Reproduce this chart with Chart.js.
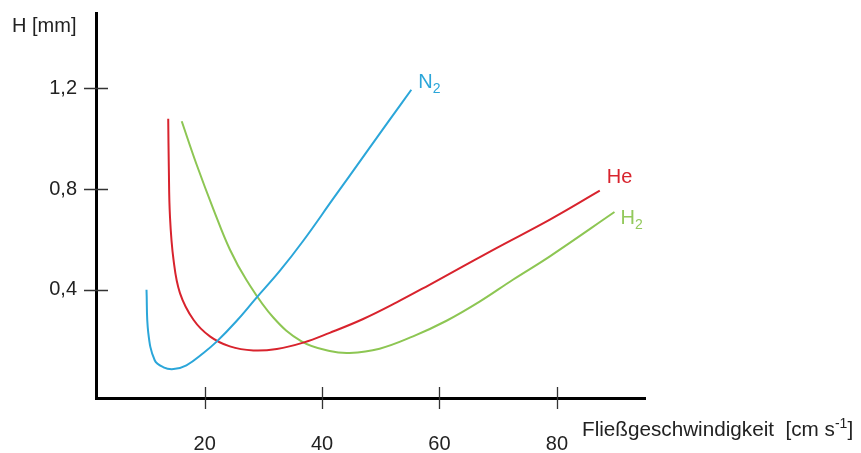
<!DOCTYPE html>
<html>
<head>
<meta charset="utf-8">
<script src="https://cdn.jsdelivr.net/npm/chart.js@4/dist/chart.umd.min.js"></script>
<style>
  html, body { margin: 0; padding: 0; background: #fff; }
  canvas { display: block; }
</style>
</head>
<body>
<canvas id="chart" width="861" height="453"></canvas>
<script>
const X_TICKS = [20, 40, 60, 80];
const Y_TICKS = [0.4, 0.8, 1.2];

const N2_X = [10.1, 10.4, 11.5, 13.0, 14.7, 16.9, 19.8, 22.1, 25.4, 28.7, 32.8, 36.8, 41.9, 47.6, 51.5, 55.2];
const N2_Y = [0.40, 0.23, 0.12, 0.092, 0.085, 0.10, 0.149, 0.195, 0.275, 0.365, 0.475, 0.595, 0.762, 0.948, 1.075, 1.195];

const HE_X = [13.8, 13.9, 14.1, 14.7, 15.8, 18.1, 20.9, 24.3, 28.3, 32.3, 36.8, 41.3, 47.0, 52.7, 58.3, 64.0, 69.7, 78.8, 87.3];
const HE_Y = [1.08, 0.89, 0.69, 0.52, 0.387, 0.281, 0.215, 0.175, 0.159, 0.165, 0.19, 0.229, 0.284, 0.35, 0.42, 0.493, 0.566, 0.679, 0.794];

const H2_X = [16.1, 18.6, 21.5, 24.3, 27.1, 31.7, 36.5, 41.3, 44.7, 49.8, 55.5, 61.2, 66.9, 72.5, 78.8, 89.8];
const H2_Y = [1.07, 0.90, 0.72, 0.56, 0.44, 0.29, 0.195, 0.157, 0.149, 0.166, 0.215, 0.277, 0.354, 0.44, 0.533, 0.709];

const FONT = '"Liberation Sans", Arial, sans-serif';
const TEXT = "#222";

const SERIES = [
  { name: "N", sub: "2", xs: N2_X, ys: N2_Y, color: "#2ba6d9", label: "#2ba6d9", dx: 7, dy: -2 },
  { name: "He", sub: "", xs: HE_X, ys: HE_Y, color: "#d8232d", label: "#d8232d", dx: 7, dy: -8 },
  { name: "H", sub: "2", xs: H2_X, ys: H2_Y, color: "#8dc653", label: "#93c95c", dx: 6, dy: 12 }
];

function toPoints(xs, ys) {
  return xs.map((x, i) => ({ x, y: ys[i] }));
}

function textWithScript(ctx, parts, x, y) {
  // parts: [text, size, dy]
  let cx = x;
  for (const [t, size, dy] of parts) {
    ctx.font = `${size}px ${FONT}`;
    ctx.fillText(t, cx, y + dy);
    cx += ctx.measureText(t).width;
  }
}

const decor = {
  id: "decor",
  afterDraw(chart) {
    const { ctx } = chart;
    const x = chart.scales.x, y = chart.scales.y;
    ctx.save();

    // tick marks crossing both axes
    ctx.strokeStyle = "#333";
    ctx.lineWidth = 1.3;
    ctx.beginPath();
    X_TICKS.forEach(v => {
      const px = Math.round(x.getPixelForValue(v)) + 0.5;
      ctx.moveTo(px, y.bottom - 11);
      ctx.lineTo(px, y.bottom + 11);
    });
    Y_TICKS.forEach(v => {
      const py = Math.round(y.getPixelForValue(v)) + 0.5;
      ctx.moveTo(x.left - 12, py);
      ctx.lineTo(x.left + 12, py);
    });
    ctx.stroke();

    // axis titles
    ctx.fillStyle = TEXT;
    ctx.textBaseline = "alphabetic";
    ctx.textAlign = "left";
    textWithScript(ctx, [["H [mm]", 20, 0]], 12, 32);
    textWithScript(ctx, [["Fließgeschwindigkeit", 20.7, 0], ["  [cm s", 20.7, 0], ["-1", 14, -8], ["]", 20.7, 0]], 582, 436);

    // series labels next to the curve ends
    SERIES.forEach((s, i) => {
      const pts = chart.getDatasetMeta(i).data;
      const last = pts[pts.length - 1];
      ctx.fillStyle = s.label;
      const parts = [[s.name, 20, 0]];
      if (s.sub) parts.push([s.sub, 14, 5]);
      textWithScript(ctx, parts, last.x + s.dx, last.y + s.dy);
    });

    ctx.restore();
  }
};

function noPad(s) {
  s.paddingTop = 0;
  s.paddingBottom = 0;
  s.paddingLeft = 0;
  s.paddingRight = 0;
}

new Chart(document.getElementById("chart"), {
  type: "line",
  data: {
    datasets: SERIES.map(s => ({
      data: toPoints(s.xs, s.ys),
      borderColor: s.color,
      borderWidth: 2,
      pointRadius: 0,
      fill: false,
      tension: 0.4
    }))
  },
  options: {
    responsive: false,
    animation: false,
    devicePixelRatio: 1,
    layout: { padding: { top: 13, right: 216, left: 0, bottom: 0 } },
    plugins: { legend: { display: false }, tooltip: { enabled: false } },
    scales: {
      x: {
        type: "linear",
        min: 1.5,
        max: 95,
        afterBuildTicks: s => { s.ticks = X_TICKS.map(v => ({ value: v })); },
        afterFit: s => { s.height = 55; noPad(s); },
        grid: { display: false, drawTicks: false },
        border: { display: true, color: "#000", width: 3 },
        ticks: {
          padding: 34,
          color: TEXT,
          font: { family: FONT, size: 20 },
          maxRotation: 0,
          callback: v => String(v)
        }
      },
      y: {
        type: "linear",
        min: -0.03,
        max: 1.5,
        afterBuildTicks: s => { s.ticks = Y_TICKS.map(v => ({ value: v })); },
        afterFit: s => { s.width = 96; noPad(s); },
        grid: { display: false, drawTicks: false },
        border: { display: true, color: "#000", width: 3 },
        ticks: {
          padding: 19,
          color: TEXT,
          font: { family: FONT, size: 20 },
          callback: v => v.toFixed(1).replace(".", ",")
        }
      }
    }
  },
  plugins: [decor]
});
</script>
</body>
</html>
